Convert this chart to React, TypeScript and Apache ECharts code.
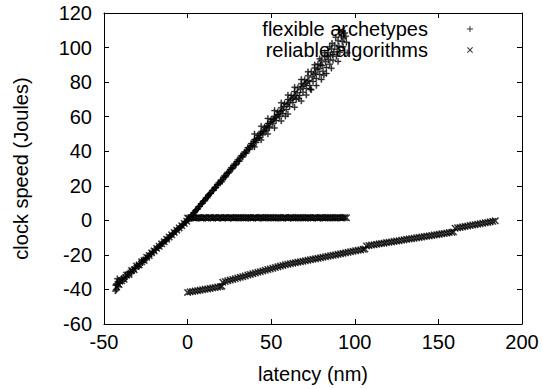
import React, { useEffect, useRef } from "react";
import * as echarts from "echarts";

// ---- data ----
const xTicks = [-50, 0, 50, 100, 150, 200];
const yTicks = [-60, -40, -20, 0, 20, 40, 60, 80, 100, 120];

const seriesNames = ["flexible archetypes", "reliable algorithms"];

// flexible archetypes: lower-left part of the diagonal
const archetypesLower: [number, number][] = [
  [-0.5, -0.4], [-1.0, -0.9], [-1.5, -1.3], [-2.5, -2.1], [-3.0, -2.7], [-3.5, -3.2],
  [-4.5, -3.9], [-5.0, -4.5], [-5.5, -4.8], [-6.5, -5.6], [-7.0, -6.3], [-7.5, -6.5],
  [-8.5, -7.6], [-9.0, -7.8], [-9.5, -8.5], [-10.5, -9.1], [-11.0, -9.9], [-11.5, -10.0],
  [-12.5, -11.2], [-13.0, -11.3], [-13.5, -12.1], [-14.5, -12.6], [-15.0, -13.5], [-15.5, -13.4],
  [-16.5, -14.8], [-17.0, -14.7], [-17.5, -15.7], [-18.5, -16.0], [-19.0, -17.1], [-19.5, -16.9],
  [-20.5, -18.4], [-21.0, -18.1], [-21.5, -19.4], [-22.5, -19.4], [-23.0, -20.8], [-23.5, -20.3],
  [-24.5, -22.1], [-25.0, -21.6], [-25.5, -23.0], [-26.5, -22.8], [-27.0, -24.4], [-27.5, -23.7],
  [-28.5, -25.8], [-29.0, -25.0], [-29.5, -26.8], [-30.5, -26.2], [-31.0, -28.0], [-31.5, -27.2],
  [-32.5, -29.4], [-33.0, -28.4], [-33.5, -30.3], [-34.5, -29.6], [-35.0, -31.6], [-35.5, -30.4],
  [-36.5, -32.9], [-37.0, -31.6], [-37.5, -34.0], [-38.5, -33.0], [-39.0, -35.3], [-39.5, -33.7],
  [-40.5, -36.5], [-41.0, -34.6], [-41.5, -38.5], [-41.8, -35.6], [-42.0, -33.8], [-42.3, -36.8],
  [-42.5, -40.2], [-43.0, -37.5], [-43.2, -40.9],
];

// flexible archetypes: upper part of the diagonal
const archetypesUpper: [number, number][] = [
  [0.5, 0.8], [1.2, 1.1], [2.0, 2.5], [2.8, 3.0], [3.5, 4.2], [4.3, 4.8],
  [5.0, 6.0], [5.8, 6.3], [6.5, 7.8], [7.3, 8.1], [8.0, 9.5], [8.8, 9.9],
  [9.5, 11.2], [10.3, 11.4], [11.0, 13.0], [11.8, 13.1], [12.5, 14.6], [13.3, 15.5],
  [14.0, 15.8], [14.8, 17.3], [15.5, 17.5], [16.3, 19.2], [17.0, 19.0], [17.8, 20.8],
  [18.5, 21.6], [19.3, 21.5], [20.0, 23.4], [20.5, 22.4], [21.0, 23.5], [22.0, 25.8],
  [23.0, 25.6], [24.0, 27.9], [25.0, 28.0], [26.0, 30.4], [27.0, 30.1], [28.0, 32.6],
  [29.0, 32.3], [30.0, 35.0], [30.5, 34.2], [31.0, 34.3], [32.0, 37.4], [33.0, 36.6],
  [34.0, 39.6], [35.0, 38.8], [35.5, 40.5], [36.0, 42.1], [37.0, 41.0], [38.0, 44.4],
  [39.0, 43.1], [40.0, 46.8], [40.5, 45.9], [41.0, 45.0], [42.0, 49.2], [43.0, 47.6],
  [44.0, 51.3], [45.0, 49.5], [45.5, 51.6], [46.0, 53.8], [47.0, 51.8], [48.0, 56.0],
  [49.0, 53.6], [50.0, 58.5], [50.5, 57.0], [51.0, 55.9], [52.0, 60.2], [53.0, 57.8],
  [54.0, 62.9], [55.0, 60.0], [55.5, 62.8], [56.0, 65.2], [57.0, 61.8], [58.0, 67.6],
  [58.5, 60.3], [59.0, 64.1], [60.0, 70.0], [60.5, 68.1], [61.0, 65.9], [62.0, 72.3],
  [62.5, 70.6], [63.0, 68.2], [64.0, 74.5], [65.0, 70.0], [65.5, 73.9], [66.0, 76.8],
  [66.5, 70.6], [67.0, 72.3], [68.0, 79.0], [68.5, 77.5], [69.0, 74.1], [70.0, 81.4],
  [70.5, 79.3], [71.0, 76.3], [72.0, 83.7], [72.5, 81.0], [73.0, 78.0], [73.5, 75.8],
  [74.0, 86.0], [75.0, 80.4], [75.5, 84.6], [76.0, 88.2], [77.0, 82.1], [77.5, 87.4],
  [78.0, 90.5], [79.0, 84.4], [80.0, 92.6], [80.5, 89.6], [81.0, 86.3], [81.5, 84.0],
  [82.0, 94.7], [82.5, 91.8], [83.0, 88.5], [84.0, 97.0], [84.3, 93.0], [85.0, 90.4],
  [85.5, 95.3], [86.0, 99.2], [86.4, 102.5], [87.0, 92.6], [87.5, 97.5], [88.0, 101.3],
  [88.6, 106.0], [89.0, 95.0], [90.0, 104.0], [90.5, 100.8], [91.0, 97.3], [91.8, 108.8],
  [92.0, 106.2], [92.5, 103.5], [93.0, 100.5], [94.0, 108.4], [95.0, 103.0],
  [1.6, 1.9], [2.4, 2.6], [3.9, 4.4], [4.7, 5.6], [6.1, 6.9], [6.9, 8.0], [8.4, 9.6],
  [9.1, 10.6], [10.7, 12.2], [12.1, 13.9], [12.9, 14.9], [13.7, 15.6], [15.1, 17.2],
  [15.9, 18.3], [16.7, 18.9], [18.1, 20.5], [19.7, 22.7], [21.5, 24.9], [22.5, 25.0],
  [23.5, 27.1], [24.5, 27.4], [25.5, 29.4], [26.5, 29.8], [27.5, 31.7], [28.5, 32.0],
  [29.5, 34.0], [31.5, 36.2], [32.5, 36.9], [33.5, 38.4], [34.5, 39.0], [36.5, 41.3],
  [37.5, 43.0], [38.5, 43.5], [39.5, 45.6], [41.5, 47.7], [42.5, 48.0], [43.5, 50.2],
  [44.5, 50.6], [46.5, 52.7], [47.5, 54.8], [48.5, 54.4], [49.5, 56.9], [51.5, 58.6],
  [52.5, 59.3], [53.5, 61.2], [54.5, 61.0], [56.5, 63.6], [57.5, 65.9], [59.5, 67.0],
  [61.5, 69.5], [63.5, 71.4], [64.5, 72.2], [67.5, 75.8], [69.5, 78.4], [71.5, 80.2],
  [74.5, 83.0], [76.5, 85.3], [78.5, 87.8], [79.5, 90.1], [83.5, 94.9], [86.8, 96.0],
  [89.5, 99.0], [93.5, 105.5], [90.8, 110.2], [92.8, 109.5], [94.6, 106.5],
  [95.5, 97.0], [90.0, 92.0], [86.0, 88.0], [83.0, 85.0], [80.0, 81.5], [77.0, 78.0],
  [74.0, 75.6], [71.0, 72.5], [68.0, 69.0], [64.0, 65.5], [60.0, 61.5], [56.0, 57.5],
  [52.0, 53.5], [48.0, 50.0], [44.0, 46.5], [40.0, 42.5],
  [85.0, 100.5], [82.0, 97.0], [79.0, 93.5], [76.0, 90.0], [72.0, 86.0], [68.0, 81.5],
  [64.0, 77.0], [60.0, 72.5], [56.0, 68.0], [52.0, 63.5], [48.0, 59.0], [44.0, 54.5],
  [40.0, 50.0],
];

// reliable algorithms: points on the lower-left diagonal
const algorithmsDiag: [number, number][] = [
  [-42.5, -38.5], [-41.0, -37.2], [-39.5, -35.0], [-38.0, -34.1], [-36.5, -31.7], [-35.0, -31.3],
  [-33.5, -29.0], [-32.0, -28.6], [-30.5, -26.5], [-29.0, -25.8], [-27.5, -24.0], [-26.0, -23.2],
  [-24.5, -21.4], [-23.0, -20.4], [-21.5, -18.8], [-20.0, -17.7], [-18.5, -16.2], [-17.0, -15.0],
  [-15.5, -13.6], [-14.0, -12.4], [-12.5, -11.0], [-11.0, -9.7], [-9.5, -8.4], [-8.0, -7.0],
  [-6.5, -5.7], [-5.0, -4.4], [-3.5, -3.1], [-2.0, -1.8], [-0.5, -0.5],
];

// reliable algorithms: flat band just above zero
const algorithmsFlat: [number, number][] = [
  [0, 1.3], [1, 1.2], [2, 1.6], [3, 1.5], [4, 1.3], [5, 1.4], [6, 1.7], [7, 1.6], [8, 1.4],
  [9, 1.3], [10, 1.6], [11, 1.5], [12, 1.3], [13, 1.7], [14, 1.5], [15, 1.4], [16, 1.6],
  [17, 1.5], [18, 1.3], [19, 1.6], [20, 1.7], [21, 1.3], [22, 1.5], [23, 1.5], [24, 1.4],
  [25, 1.6], [26, 1.7], [27, 1.4], [28, 1.3], [29, 1.5], [30, 1.6], [31, 1.7], [32, 1.5],
  [33, 1.4], [34, 1.3], [35, 1.5], [36, 1.7], [37, 1.6], [38, 1.4], [39, 1.3], [40, 1.6],
  [41, 1.5], [42, 1.4], [43, 1.6], [44, 1.7], [45, 1.4], [46, 1.3], [47, 1.5], [48, 1.6],
  [49, 1.7], [50, 1.5], [51, 1.4], [52, 1.3], [53, 1.5], [54, 1.7], [55, 1.6], [56, 1.4],
  [57, 1.3], [58, 1.6], [59, 1.5], [60, 1.4], [61, 1.6], [62, 1.7], [63, 1.4], [64, 1.3],
  [65, 1.5], [66, 1.6], [67, 1.7], [68, 1.5], [69, 1.4], [70, 1.3], [71, 1.5], [72, 1.7],
  [73, 1.6], [74, 1.4], [75, 1.3], [76, 1.6], [77, 1.5], [78, 1.4], [79, 1.6], [80, 1.7],
  [81, 1.4], [82, 1.3], [83, 1.5], [84, 1.6], [85, 1.7], [86, 1.5], [87, 1.4], [88, 1.3],
  [89, 1.5], [90, 1.7], [91, 1.6], [92, 1.4], [93, 1.5], [94, 1.6], [95, 1.5],
];

// reliable algorithms: lower rising band
const algorithmsSlope: [number, number][] = [
  [0, -41.7], [1.5, -41.4], [3, -41.2], [4.5, -40.9], [6, -40.7], [7.5, -40.4], [9, -40.2],
  [10.5, -39.9], [12, -39.7], [13.5, -39.4], [15, -39.1], [16.5, -38.9], [18, -38.6],
  [19.5, -38.4], [20.5, -38.2],
  [21, -35.8], [22.5, -35.4], [24, -35.0], [25.5, -34.6], [27, -34.2], [28.5, -33.8],
  [30, -33.4], [31.5, -33.0], [33, -32.6], [34.5, -32.2], [36, -31.7], [37.5, -31.3],
  [39, -30.9], [40.5, -30.5], [42, -30.1], [43.5, -29.7], [45, -29.3], [46.5, -28.9],
  [48, -28.5], [49.5, -28.1], [51, -27.7], [52.5, -27.3], [54, -26.9], [55.5, -26.5],
  [57, -26.1], [58.5, -25.7],
  [60, -25.4], [61.5, -25.1], [63, -24.8], [64.5, -24.5], [66, -24.2], [67.5, -24.0],
  [69, -23.7], [70.5, -23.4], [72, -23.1], [73.5, -22.8], [75, -22.5], [76.5, -22.3],
  [78, -22.0], [79.5, -21.7], [81, -21.4], [82.5, -21.1], [84, -20.8], [85.5, -20.5],
  [87, -20.2], [88.5, -20.0], [90, -19.7], [91.5, -19.4], [93, -19.1], [94.5, -18.8],
  [96, -18.5], [97.5, -18.2], [99, -17.9], [100.5, -17.6], [102, -17.3], [103.5, -17.1],
  [105, -16.8], [106, -16.6],
  [107, -14.8], [108.5, -14.6], [110, -14.3], [111.5, -14.1], [113, -13.9], [114.5, -13.6],
  [116, -13.4], [117.5, -13.2], [119, -12.9], [120.5, -12.7], [122, -12.5], [123.5, -12.2],
  [125, -12.0], [126.5, -11.8], [128, -11.5], [129.5, -11.3], [131, -11.0], [132.5, -10.8],
  [134, -10.6], [135.5, -10.4], [137, -10.1], [138.5, -9.9], [140, -9.7], [141.5, -9.4],
  [143, -9.2], [144.5, -9.0], [146, -8.8], [147.5, -8.5], [149, -8.3], [150.5, -8.1],
  [152, -7.8], [153.5, -7.6], [155, -7.4], [156.5, -7.1], [158, -6.9], [159, -6.7],
  [160, -4.6], [161.5, -4.3], [163, -4.1], [164.5, -3.8], [166, -3.5], [167.5, -3.3],
  [169, -3.0], [170.5, -2.7], [172, -2.5], [173.5, -2.2], [175, -2.0], [176.5, -1.7],
  [178, -1.4], [179.5, -1.2], [181, -0.9], [182.5, -0.6], [184, -0.3],
];

const PLUS = "path://M2.5,0H3.5V2.5H6V3.5H3.5V6H2.5V3.5H0V2.5H2.5Z";
const CROSS =
  "path://M0,0.7L0.7,0L3,2.3L5.3,0L6,0.7L3.7,3L6,5.3L5.3,6L3,3.7L0.7,6L0,5.3L2.3,3Z";

const FONT = "Liberation Sans, Arial, Helvetica, sans-serif";

export default function App() {
  const ref = useRef<HTMLDivElement>(null);

  useEffect(() => {
    if (!ref.current) return;
    const chart = echarts.init(ref.current, null, { renderer: "svg" });
    const axisLine = { show: true, onZero: false, lineStyle: { color: "#000", width: 1 } };
    const tickIn = { show: true, inside: true, length: 5, lineStyle: { color: "#000", width: 1 } };
    const markStyle = { color: "#000", borderColor: "#000", borderWidth: 0.4 };
    chart.setOption({
      animation: false,
      backgroundColor: "#fff",
      textStyle: { fontFamily: FONT },
      grid: { left: 104, right: 20, top: 13, bottom: 64, containLabel: false },
      legend: {
        data: seriesNames,
        orient: "vertical",
        align: "right",
        right: 69,
        top: 19,
        padding: 0,
        itemGap: 1,
        itemWidth: 6,
        itemHeight: 6,
        selectedMode: false,
        itemStyle: { color: "#000", borderWidth: 0 },
        textStyle: {
          fontFamily: FONT,
          fontSize: 20,
          color: "#000",
          lineHeight: 20,
          padding: [0, 34, 0, 0],
        },
      },
      xAxis: [
        {
          type: "value",
          min: xTicks[0],
          max: xTicks[xTicks.length - 1],
          interval: 50,
          position: "bottom",
          name: "latency (nm)",
          nameLocation: "middle",
          nameGap: 40,
          nameTextStyle: { fontFamily: FONT, fontSize: 20, color: "#000" },
          axisLine,
          axisTick: tickIn,
          splitLine: { show: false },
          axisLabel: { fontFamily: FONT, fontSize: 20, color: "#000", margin: 8 },
        },
        {
          type: "value",
          min: xTicks[0],
          max: xTicks[xTicks.length - 1],
          interval: 50,
          position: "top",
          axisLine,
          axisTick: tickIn,
          splitLine: { show: false },
          axisLabel: { show: false },
        },
      ],
      yAxis: [
        {
          type: "value",
          min: yTicks[0],
          max: yTicks[yTicks.length - 1],
          interval: 20,
          position: "left",
          name: "clock speed (Joules)",
          nameLocation: "middle",
          nameGap: 73,
          nameTextStyle: { fontFamily: FONT, fontSize: 20, color: "#000" },
          axisLine,
          axisTick: tickIn,
          splitLine: { show: false },
          axisLabel: { fontFamily: FONT, fontSize: 20, color: "#000", margin: 12 },
        },
        {
          type: "value",
          min: yTicks[0],
          max: yTicks[yTicks.length - 1],
          interval: 20,
          position: "right",
          axisLine,
          axisTick: tickIn,
          splitLine: { show: false },
          axisLabel: { show: false },
        },
      ],
      series: [
        {
          name: seriesNames[0],
          type: "scatter",
          xAxisIndex: 0,
          yAxisIndex: 0,
          symbol: PLUS,
          symbolSize: 6,
          itemStyle: markStyle,
          data: [...archetypesLower, ...archetypesUpper],
        },
        {
          name: seriesNames[1],
          type: "scatter",
          xAxisIndex: 0,
          yAxisIndex: 0,
          symbol: CROSS,
          symbolSize: 7,
          itemStyle: markStyle,
          data: [...algorithmsDiag, ...algorithmsFlat, ...algorithmsSlope],
        },
      ],
    });
    return () => chart.dispose();
  }, []);

  return (
    <div
      ref={ref}
      style={{ position: "absolute", left: 0, top: 0, width: 542, height: 389 }}
    />
  );
}
